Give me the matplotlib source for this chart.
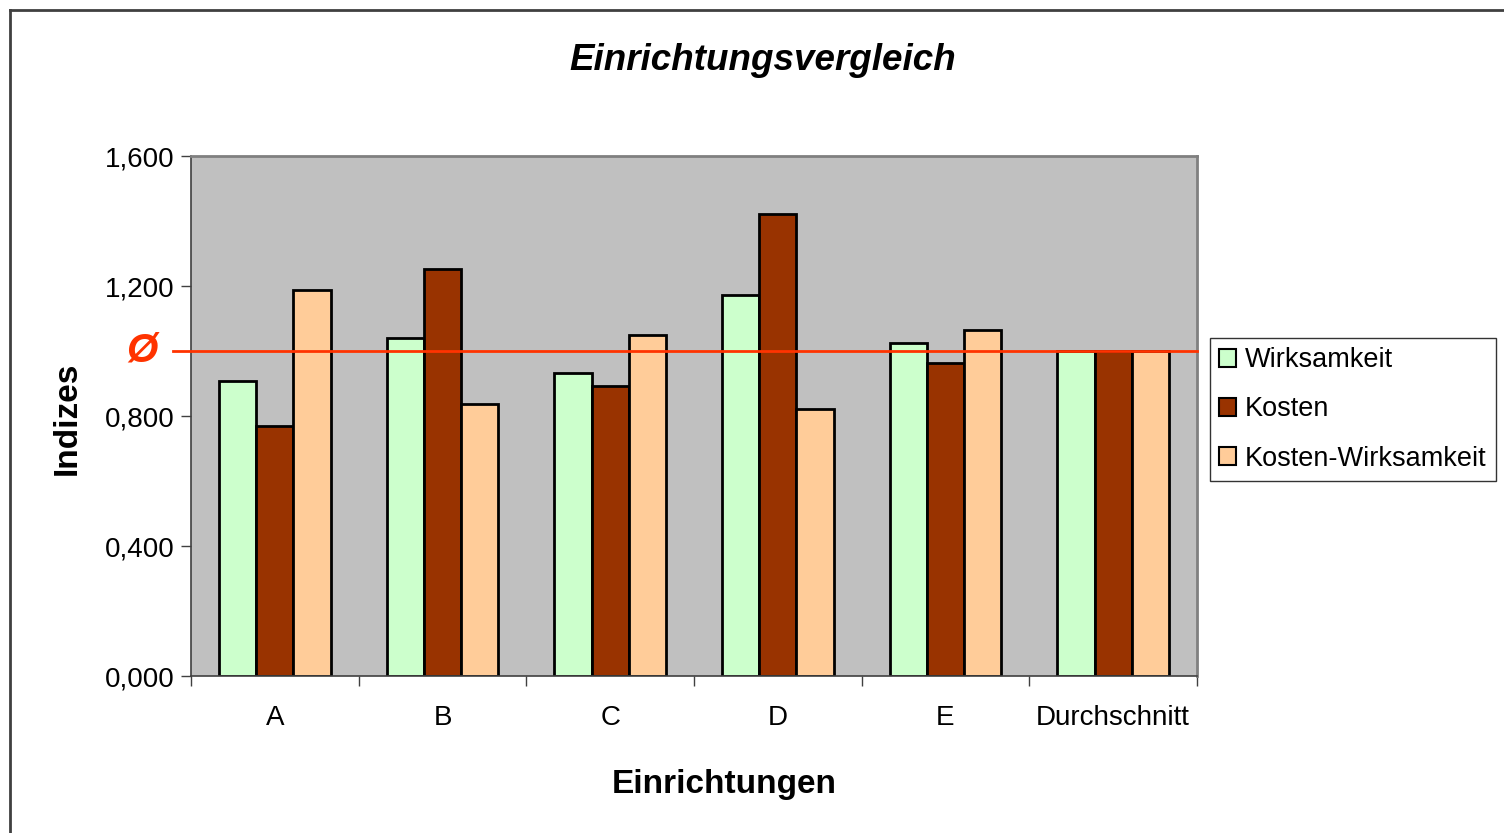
import matplotlib.pyplot as plt
import numpy as np
from matplotlib.lines import Line2D

plt.rcParams['font.family'] = ['Liberation Sans', 'DejaVu Sans']

categories = ['A', 'B', 'C', 'D', 'E', 'Durchschnitt']
wirksamkeit = [0.908, 1.040, 0.932, 1.172, 1.025, 1.000]
kosten = [0.769, 1.252, 0.892, 1.422, 0.963, 1.000]
kosten_wirksamkeit = [1.188, 0.837, 1.049, 0.822, 1.065, 1.000]
series_names = ['Wirksamkeit', 'Kosten', 'Kosten-Wirksamkeit']
colors = ['#CCFFCC', '#993300', '#FFCC99']
average = 1.0
y_ticks = [0.0, 0.4, 0.8, 1.2, 1.6]

fig = plt.figure(figsize=(15.04, 8.33), dpi=100)
ax = fig.add_axes([191 / 1504, 1 - 676 / 833, 1006 / 1504, 520 / 833])
ax.set_facecolor('#C0C0C0')

x = np.arange(len(categories))
width = 1 / 4.5  # excel gap width 150%
for i, (vals, name) in enumerate(zip([wirksamkeit, kosten, kosten_wirksamkeit], series_names)):
    ax.bar(x + (i - 1) * width, vals, width, color=colors[i], edgecolor='black',
           linewidth=2, label=name, zorder=2)

ax.set_xlim(-0.5, len(categories) - 0.5)
ax.set_ylim(0, 1.6)

# average line, starts left of the plot area
ax.plot([-0.61, len(categories) - 0.5], [average, average], color='#FF3300', lw=2,
        clip_on=False, zorder=3)
ax.text(-0.79, average, 'Ø', color='#FF3300', fontsize=29, fontweight='bold',
        fontstyle='italic', ha='center', va='center', clip_on=False)

ax.set_yticks(y_ticks)
ax.set_yticklabels([f'{v:.3f}'.replace('.', ',') for v in y_ticks], fontsize=20)
ax.set_xticks(np.arange(len(categories) + 1) - 0.5)
ax.set_xticklabels([])
ax.set_xticks(x, minor=True)
ax.set_xticklabels(categories, minor=True, fontsize=20)
ax.tick_params(axis='x', which='minor', length=0, pad=21)
ax.tick_params(axis='x', which='major', length=7, width=1, color='#404040', direction='out')
ax.tick_params(axis='y', length=7, width=1, color='#404040', direction='out', pad=5)

for side in ['top', 'right']:
    ax.spines[side].set_color('#808080')
    ax.spines[side].set_linewidth(2)
for side in ['left', 'bottom']:
    ax.spines[side].set_color('#404040')
    ax.spines[side].set_linewidth(1.2)

fig.text(763 / 1504, 1 - 60 / 833, 'Einrichtungsvergleich', fontsize=26.5, fontweight='bold',
         fontstyle='italic', ha='center', va='center')
fig.text(724 / 1504, 1 - 785 / 833, 'Einrichtungen', fontsize=24, fontweight='bold',
         ha='center', va='center')
fig.text(67 / 1504, 1 - 418 / 833, 'Indizes', fontsize=24, fontweight='bold',
         ha='center', va='center', rotation=90)

leg = fig.legend(loc='upper left', bbox_to_anchor=(1210 / 1504, 1 - 338 / 833),
                 fontsize=19.5, frameon=True, fancybox=False, edgecolor='black',
                 handlelength=0.6, handleheight=0.6, handletextpad=0.35,
                 labelspacing=0.85, borderpad=0.35, borderaxespad=0)
leg.get_frame().set_linewidth(1)
for h in leg.legend_handles:
    h.set_linewidth(1.5)

# outer chart frame (only left and top visible)
fig.add_artist(Line2D([10 / 1504, 10 / 1504], [0, 1 - 10 / 833], color='#404040', lw=2))
fig.add_artist(Line2D([10 / 1504, 1], [1 - 10 / 833, 1 - 10 / 833], color='#404040', lw=2))

fig.savefig('out.png', dpi=100, facecolor='white')
